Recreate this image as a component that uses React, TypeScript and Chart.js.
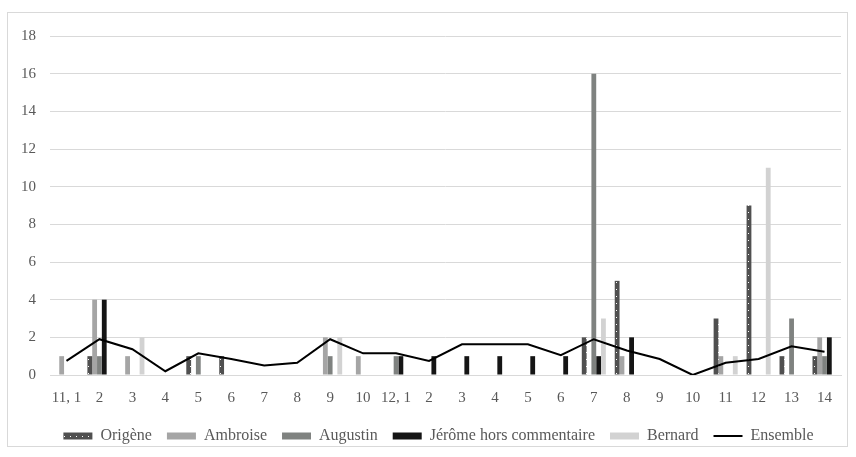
import React, { useEffect, useRef } from "react";
import { Chart, registerables } from "chart.js";

Chart.register(...registerables);

const categories = ["11, 1", "2", "3", "4", "5", "6", "7", "8", "9", "10", "12, 1", "2", "3", "4", "5", "6", "7", "8", "9", "10", "11", "12", "13", "14"];
const origene = [0, 1, 0, 0, 1, 1, 0, 0, 0, 0, 0, 0, 0, 0, 0, 0, 2, 5, 0, 0, 3, 9, 1, 1];
const ambroise = [1, 4, 1, 0, 0, 0, 0, 0, 2, 1, 0, 0, 0, 0, 0, 0, 0, 1, 0, 0, 1, 0, 0, 2];
const augustin = [0, 1, 0, 0, 1, 0, 0, 0, 1, 0, 1, 0, 0, 0, 0, 0, 16, 0, 0, 0, 0, 0, 3, 1];
const jerome = [0, 4, 0, 0, 0, 0, 0, 0, 0, 0, 1, 1, 1, 1, 1, 1, 1, 2, 0, 0, 0, 0, 0, 2];
const bernard = [0, 0, 2, 0, 0, 0, 0, 0, 2, 0, 0, 0, 0, 0, 0, 0, 3, 0, 0, 0, 1, 11, 0, 0];
const ensemble = [0.75, 1.9, 1.37, 0.2, 1.15, 0.85, 0.5, 0.65, 1.9, 1.15, 1.15, 0.75, 1.63, 1.63, 1.63, 1.05, 1.9, 1.3, 0.85, 0, 0.65, 0.85, 1.52, 1.23];
const yTicks = [0, 2, 4, 6, 8, 10, 12, 14, 16, 18];

const TEXT = "#595959";
const FONT = "'Liberation Serif', 'Times New Roman', serif";

function makePattern(): CanvasPattern | string {
  const c = document.createElement("canvas");
  c.width = 6;
  c.height = 7;
  const g = c.getContext("2d");
  if (!g) return "#505050";
  g.fillStyle = "#505050";
  g.fillRect(0, 0, 6, 7);
  g.fillStyle = "#ffffff";
  g.fillRect(2, 3, 1, 1);
  const p = g.createPattern(c, "repeat");
  return p || "#505050";
}

const shiftLegend = {
  id: "shiftLegend",
  afterLayout(chart: any) {
    const lg = chart.legend;
    if (lg) {
      lg.left += 14;
      lg.right += 14;
    }
  },
};

export default function App() {
  const ref = useRef<HTMLCanvasElement | null>(null);

  useEffect(() => {
    if (!ref.current) return;
    const pattern = makePattern();
    const barDs = (label: string, data: number[], color: any) => ({
      type: "bar" as const,
      label,
      data,
      backgroundColor: color,
      borderWidth: 0,
      order: 1,
      categoryPercentage: 0.73,
      barPercentage: 1,
    });
    const chart = new Chart(ref.current, {
      type: "bar",
      plugins: [shiftLegend],
      data: {
        labels: categories,
        datasets: [
          barDs("Origène", origene, pattern),
          barDs("Ambroise", ambroise, "#a5a5a5"),
          barDs("Augustin", augustin, "#7f8280"),
          barDs("Jérôme hors commentaire", jerome, "#151515"),
          barDs("Bernard", bernard, "#d2d2d2"),
          {
            type: "line" as const,
            label: "Ensemble",
            data: ensemble,
            borderColor: "#000000",
            backgroundColor: "#000000",
            borderWidth: 2,
            pointRadius: 0,
            tension: 0,
            order: 0,
          } as any,
        ],
      },
      options: {
        animation: false,
        responsive: true,
        maintainAspectRatio: false,
        layout: { padding: { left: 0, right: 6, top: 14, bottom: -8 } },
        plugins: {
          tooltip: { enabled: false },
          legend: {
            position: "bottom",
            labels: {
              usePointStyle: true,
              pointStyleWidth: 29,
              boxWidth: 29,
              boxHeight: 7,
              padding: 15,
              color: TEXT,
              font: { family: FONT, size: 16 },
              generateLabels: (ch: any) =>
                ch.data.datasets.map((ds: any, i: number) => ({
                  text: ds.label,
                  fillStyle: ds.backgroundColor,
                  strokeStyle: ds.type === "line" ? "#000000" : ds.backgroundColor,
                  lineWidth: ds.type === "line" ? 2 : 0,
                  pointStyle: ds.type === "line" ? "line" : "rect",
                  datasetIndex: i,
                  hidden: false,
                  fontColor: TEXT,
                })),
            },
          },
        },
        scales: {
          x: {
            grid: { display: false },
            border: { display: true, color: "#d9d9d9" },
            ticks: { color: TEXT, font: { family: FONT, size: 15 }, padding: 6, maxRotation: 0, autoSkip: false },
          },
          y: {
            min: 0,
            max: 18,
            afterBuildTicks: (axis: any) => {
              axis.ticks = yTicks.map((v) => ({ value: v }));
            },
            afterFit: (axis: any) => {
              axis.width = 42;
            },
            grid: { color: "#d9d9d9", lineWidth: 1, drawTicks: false },
            border: { display: false },
            ticks: { color: TEXT, font: { family: FONT, size: 15 }, padding: 14 },
          },
        },
      },
    });
    return () => chart.destroy();
  }, []);

  return (
    <div
      style={{
        position: "absolute",
        left: 7,
        top: 12,
        width: 841,
        height: 435,
        border: "1px solid #d9d9d9",
        boxSizing: "border-box",
        background: "#fff",
      }}
    >
      <canvas ref={ref} />
    </div>
  );
}
